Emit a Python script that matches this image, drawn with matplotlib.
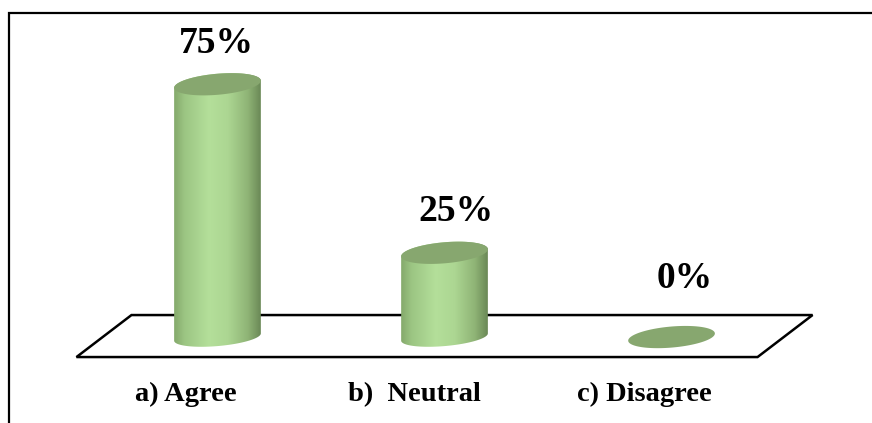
import numpy as np
import matplotlib
matplotlib.use("Agg")
import matplotlib.pyplot as plt
from matplotlib.patches import Polygon
from matplotlib.lines import Line2D
from matplotlib.colors import LinearSegmentedColormap

# Survey responses
categories = ["a) Agree", "b)  Neutral", "c) Disagree"]
percentages = [75, 25, 0]
value_labels = ["75%", "25%", "0%"]

# Label placement (pixel offsets from the top of each cylinder / floor)
value_dx = [-1.5, 11.5, 13.5]
value_dy = [31, 32, 49]
cat_dx = [-32, -30, -27.5]
cat_dy = -64

W, H, DPI = 872, 423, 100
FONT = ["Liberation Serif", "DejaVu Serif"]

fig = plt.figure(figsize=(W / DPI, H / DPI), dpi=DPI)
fig.patch.set_facecolor("white")
ax = fig.add_axes([0, 0, 1, 1])
ax.set_xlim(-0.958, 2.883)
ax.set_ylim(-25.5, 100.0)
ax.axis("off")

to_px = ax.transData.transform
to_data = ax.transData.inverted().transform

# Cylinder geometry in pixels
A = 43.5          # half width
B_TOP = 10.5      # half height of the top cap
B_BOT = 9.0       # half height of the base
TILT = np.deg2rad(5.0)


def ellipse_pts(c, b, t):
    ct, st = np.cos(TILT), np.sin(TILT)
    ex, ey = A * np.cos(t), b * np.sin(t)
    return np.column_stack([c[0] + ex * ct - ey * st, c[1] + ex * st + ey * ct])


def t_right(b):
    return np.arctan2(-b * np.sin(TILT), A * np.cos(TILT))


body_cmap = LinearSegmentedColormap.from_list(
    "cyl",
    [(0.0, "#84a96b"), (0.12, "#9cc583"), (0.40, "#b4df9a"),
     (0.62, "#acd692"), (0.85, "#8fb476"), (1.0, "#6a8856")],
)
TOP_COLOR = "#87a76f"

# Floor parallelogram
f0 = to_px((-0.5, 0))
f1 = to_px((2.5, 0))
back_off = np.array([27.5, 22.0])
front_off = np.array([-27.5, -20.0])
floor_px = np.array([f0 + front_off, f1 + front_off, f1 + back_off, f0 + back_off])
ax.add_patch(Polygon(to_data(floor_px), closed=True, facecolor="white",
                     edgecolor="black", linewidth=1.8, joinstyle="miter", zorder=1))

# Cylinders
for i, v in enumerate(percentages):
    base = to_px((i, 0))
    top = to_px((i, v))
    if v > 0:
        tr_b, tr_t = t_right(B_BOT), t_right(B_TOP)
        bottom_arc = ellipse_pts(base, B_BOT, np.linspace(tr_b + np.pi, tr_b + 2 * np.pi, 120))
        top_arc = ellipse_pts(top, B_TOP, np.linspace(tr_t, tr_t + np.pi, 120))
        body_px = np.vstack([bottom_arc, top_arc])
        body = Polygon(to_data(body_px), closed=True, facecolor="none",
                       edgecolor="none", zorder=2)
        ax.add_patch(body)
        lo = to_data(body_px.min(axis=0))
        hi = to_data(body_px.max(axis=0))
        grad = np.linspace(0, 1, 256)[None, :]
        im = ax.imshow(grad, cmap=body_cmap, extent=[lo[0], hi[0], lo[1], hi[1]],
                       aspect="auto", interpolation="bilinear", zorder=2)
        im.set_clip_path(body)
    cap = ellipse_pts(top, B_TOP, np.linspace(0, 2 * np.pi, 200))
    ax.add_patch(Polygon(to_data(cap), closed=True, facecolor=TOP_COLOR,
                         edgecolor="none", zorder=3))

    ax.annotate(value_labels[i], xy=(i, v), xytext=(value_dx[i], value_dy[i]),
                textcoords="offset pixels", ha="center", va="baseline",
                fontsize=27, fontweight="bold", family=FONT, color="black", zorder=4)
    ax.annotate(categories[i], xy=(i, 0), xytext=(cat_dx[i], cat_dy),
                textcoords="offset pixels", ha="center", va="baseline",
                fontsize=20.5, fontweight="bold", family=FONT, color="black", zorder=4)

# Outer frame (top and left edges)
fig.add_artist(Line2D([9 / W, 9 / W, 1.01], [-0.01, 1 - 13 / H, 1 - 13 / H],
                      transform=fig.transFigure, color="black", linewidth=1.6,
                      solid_joinstyle="miter"))

fig.savefig("out.png", dpi=DPI, facecolor="white")
